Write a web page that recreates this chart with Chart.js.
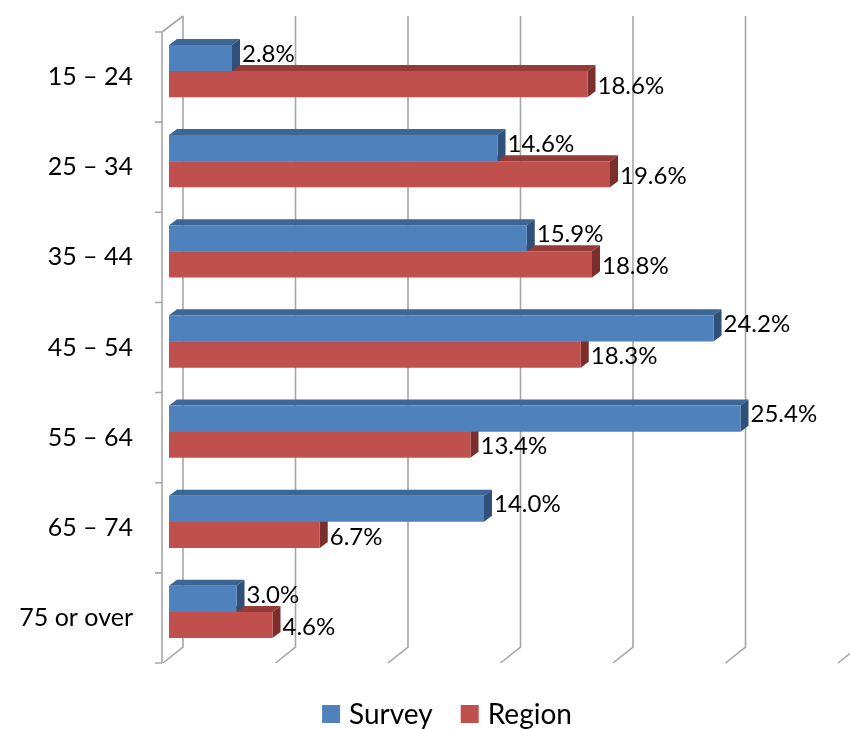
<!DOCTYPE html>
<html lang="en">
<head>
<meta charset="UTF-8">
<title>Survey vs Region by age</title>
<script src="https://cdn.jsdelivr.net/npm/chart.js@4.4.7/dist/chart.umd.min.js"></script>
<style>
*{margin:0;padding:0}
body{background:#fff;width:850px;height:729px;overflow:hidden}
canvas{display:block}
</style>
</head>
<body>
<canvas id="chart" width="850" height="729"></canvas>
<script>
const categories = ['15 – 24', '25 – 34', '35 – 44', '45 – 54', '55 – 64', '65 – 74', '75 or over'];
const seriesNames = ['Survey', 'Region'];
const survey = [2.8, 14.6, 15.9, 24.2, 25.4, 14.0, 3.0];
const region = [18.6, 19.6, 18.8, 18.3, 13.4, 6.7, 4.6];
const xTicks = [0, 5, 10, 15, 20, 25, 30];

const front = ['#4f81bd', '#c0504d'];
const topFace = ['#3c6695', '#943a38'];
const sideFace = ['#2f5079', '#7b2f2d'];
const FONT = 'Lato, "Open Sans", sans-serif';

// 3D offsets relative to the plane the bars' front faces sit in
const wallFront = { dx: -7, dy: 6 };
const wallBack = { dx: 14, dy: -10 };
const barDepth = { dx: 8, dy: -6 };

const walls = {
  id: 'walls',
  beforeDatasetsDraw(chart) {
    const { ctx, chartArea: a, scales: { x } } = chart;
    ctx.save();
    ctx.strokeStyle = '#a6a6a6';
    ctx.lineWidth = 1.6;
    ctx.beginPath();
    // left wall, front edge + ticks
    ctx.moveTo(a.left + wallFront.dx, a.top + wallFront.dy);
    ctx.lineTo(a.left + wallFront.dx, a.bottom + wallFront.dy);
    const step = (a.bottom - a.top) / categories.length;
    for (let i = 0; i <= categories.length; i++) {
      const yy = a.top + wallFront.dy + i * step;
      ctx.moveTo(a.left + wallFront.dx - 7, yy);
      ctx.lineTo(a.left + wallFront.dx, yy);
    }
    ctx.moveTo(a.left + wallFront.dx, a.top + wallFront.dy);
    ctx.lineTo(a.left + wallBack.dx, a.top + wallBack.dy);
    // back wall gridlines + floor diagonals
    xTicks.forEach(t => {
      const px = x.getPixelForValue(t);
      ctx.moveTo(px + wallBack.dx, a.top + wallBack.dy);
      ctx.lineTo(px + wallBack.dx, a.bottom + wallBack.dy);
      ctx.lineTo(px + wallFront.dx + 1, a.bottom + wallFront.dy);
    });
    ctx.stroke();

    // top and side faces of the bars, back series first
    for (let di = chart.data.datasets.length - 1; di >= 0; di--) {
      chart.getDatasetMeta(di).data.forEach(el => {
        const { x: ex, y: ey, base, height } = el.getProps(['x', 'y', 'base', 'height'], true);
        const t = ey - height / 2, b = ey + height / 2;
        ctx.fillStyle = topFace[di];
        ctx.beginPath();
        ctx.moveTo(base, t);
        ctx.lineTo(base + barDepth.dx, t + barDepth.dy);
        ctx.lineTo(ex + barDepth.dx, t + barDepth.dy);
        ctx.lineTo(ex, t);
        ctx.closePath();
        ctx.fill();
        ctx.fillStyle = sideFace[di];
        ctx.beginPath();
        ctx.moveTo(ex, t);
        ctx.lineTo(ex + barDepth.dx, t + barDepth.dy);
        ctx.lineTo(ex + barDepth.dx, b + barDepth.dy);
        ctx.lineTo(ex, b);
        ctx.closePath();
        ctx.fill();
      });
    }
    ctx.restore();
  }
};

const labels = {
  id: 'labels',
  afterDatasetsDraw(chart) {
    const { ctx } = chart;
    const yShift = [-4, 2];
    ctx.save();
    ctx.font = '24px ' + FONT;
    ctx.fillStyle = '#000';
    ctx.textAlign = 'left';
    ctx.textBaseline = 'middle';
    chart.data.datasets.forEach((ds, di) => {
      chart.getDatasetMeta(di).data.forEach((el, i) => {
        const { x: ex, y: ey } = el.getProps(['x', 'y'], true);
        ctx.fillText(ds.data[i].toFixed(1) + '%', ex + barDepth.dx + 2, ey + yShift[di]);
      });
    });
    ctx.restore();
  }
};

const legend = {
  id: 'customLegend',
  afterDraw(chart) {
    const { ctx } = chart;
    const box = 18, gapText = 9, gapItem = 28, cx = 447, cy = 714;
    ctx.save();
    ctx.font = '28px ' + FONT;
    ctx.textBaseline = 'middle';
    const items = chart.data.datasets.map(ds => ({ label: ds.label, color: ds.backgroundColor, w: ctx.measureText(ds.label).width }));
    const total = items.reduce((s, it) => s + box + gapText + it.w, 0) + gapItem * (items.length - 1);
    let xx = cx - total / 2;
    items.forEach(it => {
      ctx.fillStyle = it.color;
      ctx.fillRect(xx, cy - box / 2, box, box);
      ctx.fillStyle = '#000';
      ctx.fillText(it.label, xx + box + gapText, cy + 1);
      xx += box + gapText + it.w + gapItem;
    });
    ctx.restore();
  }
};

new Chart(document.getElementById('chart'), {
  type: 'bar',
  data: {
    labels: categories,
    datasets: [
      { label: seriesNames[0], data: survey, backgroundColor: front[0] },
      { label: seriesNames[1], data: region, backgroundColor: front[1] }
    ]
  },
  options: {
    indexAxis: 'y',
    responsive: false,
    animation: false,
    layout: { padding: { left: 0, right: 6, top: 26, bottom: 72 } },
    datasets: { bar: { categoryPercentage: 0.58, barPercentage: 1, borderWidth: 0 } },
    plugins: { legend: { display: false }, tooltip: { enabled: false } },
    scales: {
      x: { display: false, min: 0, max: 30 },
      y: {
        grid: { display: false, drawTicks: false },
        border: { display: false },
        afterFit(s) { s.width = 169; s.paddingTop = 0; s.paddingBottom = 0; },
        ticks: { color: '#000', font: { family: FONT, size: 25 }, padding: 36, labelOffset: 6 }
      }
    }
  },
  plugins: [walls, labels, legend]
});
</script>
</body>
</html>
